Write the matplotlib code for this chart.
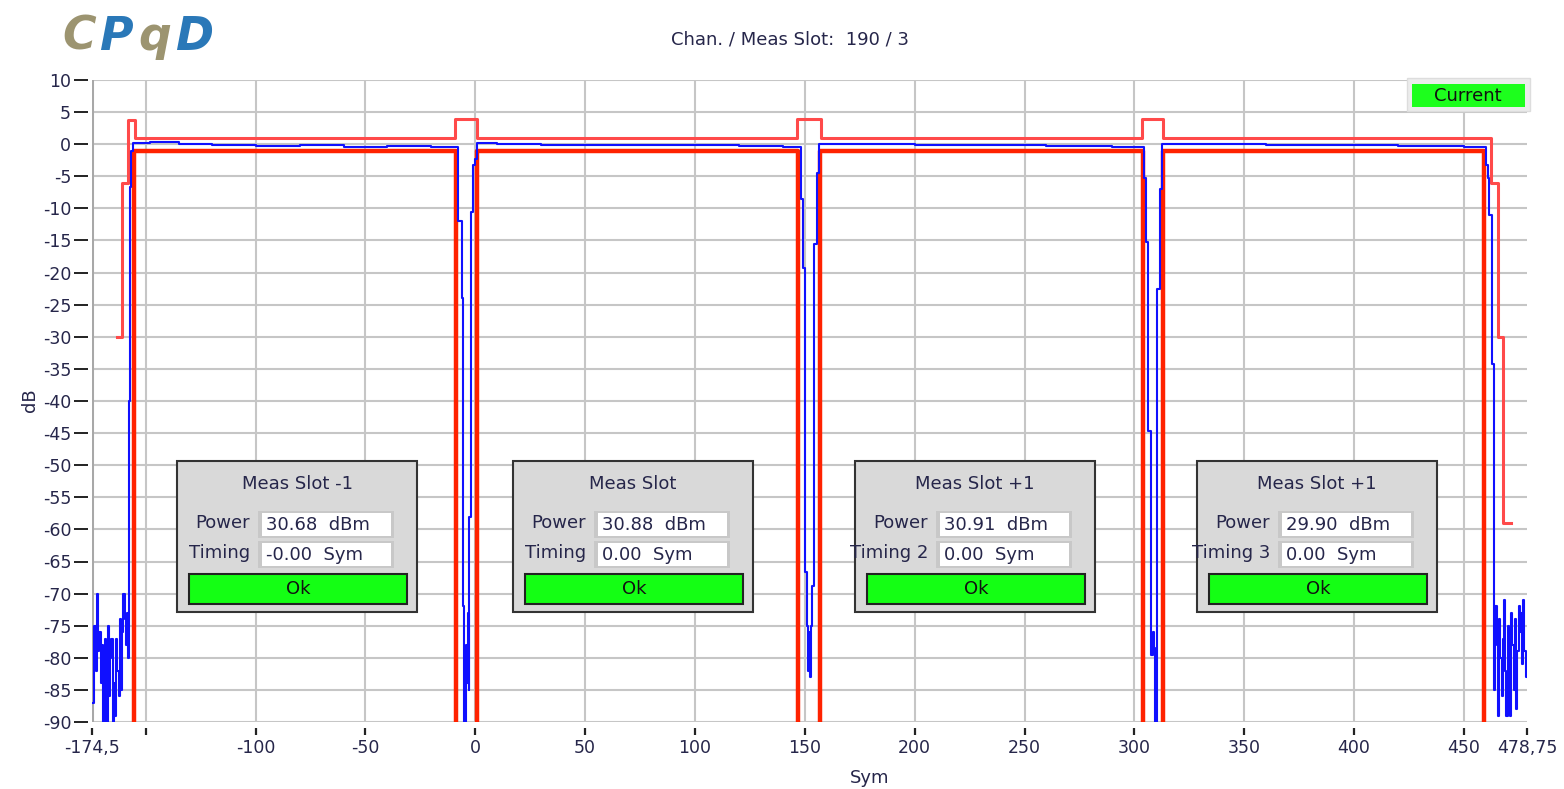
import numpy as np
import matplotlib
matplotlib.use("Agg")
import matplotlib.pyplot as plt
from matplotlib.patches import Rectangle

plt.rcParams["font.family"] = ["DejaVu Sans"]
plt.rcParams["axes.unicode_minus"] = False

W, H = 1564, 789
FLOOR = -100  # off-scale bottom for the mask

# Upper mask (light red), steps-post
upper_x = [-163.3, -160.8, -158.3, -154.9, -9.2, 0.9, 146.5, 157.2, 303.3, 313.2, 462.2, 465.7, 468.0, 471.3]
upper_y = [-30, -6, 3.7, 1, 4, 1, 4, 1, 4, 1, -6, -30, -59, -59]

# Lower mask (red), steps-post
lower_x = [-155.4, -155.4, -8.8, 0.6, 146.9, 156.9, 303.8, 313.0, 459.3, 459.3]
lower_y = [FLOOR, -1, FLOOR, -1, FLOOR, -1, FLOOR, -1, FLOOR, FLOOR]

# Measured burst (blue)
noise_left_x = [-173.9, -173.4, -172.8, -172.3, -171.7, -171.2, -170.6, -170.1, -169.5, -169.0,
                -168.4, -167.9, -167.3, -166.8, -166.2, -165.7, -165.1, -164.6, -164.0, -163.5,
                -162.9, -162.4, -161.8, -161.3, -160.7, -160.2, -159.6, -159.1, -158.6]
noise_left_y = [-87, -75, -82, -70, -79, -76, -84, -78, -90, -83,
                -77, -90, -75, -86, -80, -77, -90, -84, -89, -77,
                -82, -86, -74, -85, -76, -70, -74, -78, -73]

trace_x = [-158.1, -157.8, -157.3, -156.6, -156.0, -148, -135, -120, -100, -80, -60, -40, -20,
           -7.7, -6.2, -5.5, -5.0, -4.4, -3.9, -3.5, -3.0, -2.7, -2.1, -0.9, -0.1, 0.9, 10, 30, 60, 90, 120, 140,
           148.2, 149.2, 149.9, 150.8, 151.3, 151.7, 152.2, 152.7, 153.4, 154.3, 155.4, 156.4, 170, 200, 230, 260, 290,
           304.4, 305.3, 306.4, 307.6, 308.3, 308.8, 309.4, 310.4, 311.6, 312.4, 330, 360, 390, 420, 450,
           460.0, 460.9, 461.6, 462.7]
trace_y = [-80, -40, -6.7, -1, 0.2, 0.3, 0.0, -0.1, -0.3, -0.2, -0.4, -0.3, -0.5,
           -12, -24, -72, -90, -78, -84, -73, -85, -58, -10.5, -3.2, -2.3, 0.2, 0.1, -0.1, -0.2, -0.1, -0.3, -0.4,
           -8.5, -19.3, -66.6, -75, -82, -76, -83, -75, -68.8, -15.5, -4.5, 0.1, 0.0, -0.2, -0.1, -0.3, -0.4,
           -5.3, -15.2, -44.6, -79.6, -76, -78.5, -90, -22.6, -7, 0.1, 0.0, -0.2, -0.2, -0.3, -0.4,
           -3.2, -5.2, -11, -34.3]

noise_right_x = [463.9, 464.4, 465.0, 465.5, 466.1, 466.6, 467.2, 467.7, 468.3, 468.8,
                 469.4, 469.9, 470.5, 471.0, 471.6, 472.1, 472.7, 473.2, 473.8, 474.3,
                 474.9, 475.4, 476.0, 476.5, 477.1, 477.6, 478.2, 478.75]
noise_right_y = [-85, -72, -78, -89, -74, -80, -86, -77, -71, -82,
                 -89, -75, -84, -89, -73, -78, -85, -74, -88, -79,
                 -72, -76, -73, -81, -71, -79, -83, -83]

# Axis ticks
x_ticks = [-174.5, -150, -100, -50, 0, 50, 100, 150, 200, 250, 300, 350, 400, 450, 478.75]
x_labels = ["-174,5", "", "-100", "-50", "0", "50", "100", "150", "200", "250", "300", "350", "400", "450", "478,75"]
y_ticks = [10, 5, 0, -5, -10, -15, -20, -25, -30, -35, -40, -45, -50, -55, -60, -65, -70, -75, -80, -85, -90]
x_grid = [-150, -100, -50, 0, 50, 100, 150, 200, 250, 300, 350, 400, 450]

# Result panels
panel_titles = ["Meas Slot -1", "Meas Slot", "Meas Slot +1", "Meas Slot +1"]
panel_timing = ["Timing", "Timing", "Timing 2", "Timing 3"]
panel_power = ["30.68  dBm", "30.88  dBm", "30.91  dBm", "29.90  dBm"]
panel_time = ["-0.00  Sym", "0.00  Sym", "0.00  Sym", "0.00  Sym"]
panel_left_px = [177, 513, 855, 1197]

TXT = "#26264a"
FS = 13

fig = plt.figure(figsize=(W / 100, H / 100), dpi=100)
fig.patch.set_facecolor("white")


def fx(px):
    return px / W


def fy(py):
    return 1 - py / H


ax = fig.add_axes([fx(92), fy(722), fx(1527) - fx(92), fy(80) - fy(722)])
ax.set_xlim(-174.5, 478.75)
ax.set_ylim(-90, 10)

for s in ["top", "right", "bottom", "left"]:
    ax.spines[s].set_visible(False)
ax.spines["bottom"].set_position(("outward", 4))
ax.spines["left"].set_position(("outward", 3))

# grid
for g in x_grid:
    ax.axvline(g, color="#c6c6c6", lw=1.5, zorder=0)
for g in y_ticks:
    ax.axhline(g, color="#c6c6c6", lw=1.5, zorder=0)
ax.axvline(-174.5, color="#a8a8a8", lw=2.2, zorder=0)

ax.plot(upper_x, upper_y, drawstyle="steps-post", color="#ff4a4a", lw=2.2, zorder=2)
ax.plot(lower_x, lower_y, drawstyle="steps-post", color="#ff2200", lw=3.2, zorder=2)

blue_x = np.concatenate([noise_left_x, trace_x, noise_right_x])
blue_y = np.concatenate([noise_left_y, trace_y, noise_right_y])
ax.plot(blue_x, blue_y, drawstyle="steps-post", color="#1010ff", lw=1.5, zorder=3)

ax.set_xticks(x_ticks)
ax.set_xticklabels(x_labels)
ax.set_yticks(y_ticks)
ax.set_yticklabels([str(v) for v in y_ticks])
ax.tick_params(axis="x", length=5, width=1.6, color="#222222", pad=3, labelsize=12.5, labelcolor=TXT)
ax.tick_params(axis="y", length=10, width=1.4, color="#222222", pad=2, labelsize=12.5, labelcolor=TXT)

fig.text(fx(870), fy(778), "Sym", ha="center", va="center", fontsize=FS, color=TXT)
fig.text(fx(30), fy(400), "dB", ha="center", va="center", rotation=90, fontsize=FS, color=TXT)
fig.text(fx(790), fy(40), "Chan. / Meas Slot:  190 / 3", ha="center", va="center", fontsize=FS, color=TXT)

# logo
logo = [("C", 62, "#9c9470"), ("P", 99, "#2a78b8"), ("q", 138, "#9c9470"), ("D", 175, "#2a78b8")]
for ch, lx, col in logo:
    fig.text(fx(lx), fy(50), ch, ha="left", va="baseline", fontsize=33, fontweight="heavy",
             style="italic", color=col)

# "Current" indicator
fig.add_artist(Rectangle((fx(1407), fy(111)), fx(1530) - fx(1407), fy(78) - fy(111),
                         transform=fig.transFigure, facecolor="#ececec", edgecolor="#dddddd", lw=1))
fig.add_artist(Rectangle((fx(1412), fy(107)), fx(1525) - fx(1412), fy(84) - fy(107),
                         transform=fig.transFigure, facecolor="#1dff1d", edgecolor="none"))
fig.text(fx(1468), fy(96), "Current", ha="center", va="center", fontsize=FS, color="#111111")


def rect(x0, y0, x1, y1, fc, ec, lw):
    fig.add_artist(Rectangle((fx(x0), fy(y1)), fx(x1) - fx(x0), fy(y0) - fy(y1),
                             transform=fig.transFigure, facecolor=fc, edgecolor=ec, lw=lw))


for i, left in enumerate(panel_left_px):
    rect(left, 461, left + 240, 612, "#d9d9d9", "#333333", 1.5)
    fig.text(fx(left + 120), fy(484), panel_titles[i], ha="center", va="center", fontsize=FS, color=TXT)
    fig.text(fx(left + 73), fy(523), "Power", ha="right", va="center", fontsize=FS, color=TXT)
    fig.text(fx(left + 73), fy(553), panel_timing[i], ha="right", va="center", fontsize=FS, color=TXT)
    for yy, val in [(511, panel_power[i]), (541, panel_time[i])]:
        rect(left + 81, yy, left + 217, yy + 27, "#c8c8c8", "none", 0)
        rect(left + 85, yy + 2, left + 214, yy + 25, "white", "none", 0)
        fig.text(fx(left + 89), fy(yy + 14), val, ha="left", va="center", fontsize=FS, color=TXT)
    rect(left + 12, 574, left + 230, 604, "#14ff14", "#222222", 1.5)
    fig.text(fx(left + 121), fy(589), "Ok", ha="center", va="center", fontsize=FS, color="#111111")

fig.savefig("out.png", dpi=100)
